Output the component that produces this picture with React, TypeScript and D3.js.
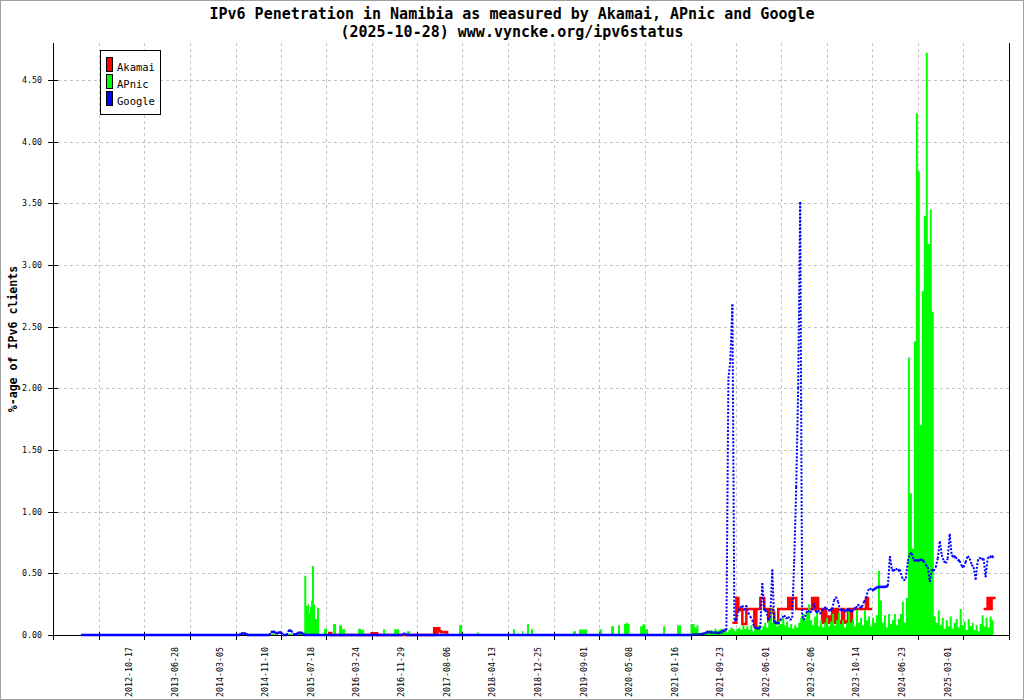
import * as d3 from 'd3';

// --- axis labels ---------------------------------------------------------
const tickLabels = [
  '2012-10-17', '2013-06-28', '2014-03-05', '2014-11-10', '2015-07-18',
  '2016-03-24', '2016-11-29', '2017-08-06', '2018-04-13', '2018-12-25',
  '2019-09-01', '2020-05-08', '2021-01-16', '2021-09-23', '2022-06-01',
  '2023-02-06', '2023-10-14', '2024-06-23', '2025-03-01',
];
const unlabeledTicks = ['2012-02-12'];
const yTicks = [0, 0.5, 1, 1.5, 2, 2.5, 3, 3.5, 4, 4.5];

const seriesNames = ['Akamai', 'APnic', 'Google'];
const seriesColors = ['#ff0000', '#00ff00', '#0000ff'];

// --- early years: sparse [date, %] readings --------------------------------
const googleEarly: [string, number][] = [
  ['2011-11-02', 0], ['2014-03-27', 0], ['2014-04-02', 0.012], ['2014-05-01', 0.012],
  ['2014-05-06', 0], ['2014-09-08', 0], ['2014-09-14', 0.025], ['2014-10-10', 0.025],
  ['2014-10-16', 0.005], ['2014-10-23', 0.02], ['2014-11-14', 0.02], ['2014-11-20', 0],
  ['2014-12-13', 0], ['2014-12-19', 0.035], ['2015-01-08', 0.035], ['2015-01-14', 0.005],
  ['2015-02-06', 0.005], ['2015-02-12', 0.02], ['2015-03-11', 0.015], ['2015-03-17', 0],
  ['2016-09-09', 0], ['2016-09-15', 0.01], ['2016-09-26', 0.01], ['2016-10-02', 0],
];

const apnicEarly: [string, number][] = [
  ['2014-03-29', 0], ['2014-09-10', 0.01], ['2014-10-13', 0], ['2014-12-19', 0.01],
  ['2015-01-10', 0], ['2015-02-01', 0.01], ['2015-03-18', 0.48], ['2015-03-29', 0.235],
  ['2015-04-05', 0.25], ['2015-04-14', 0.18], ['2015-04-19', 0.23], ['2015-04-25', 0.28],
  ['2015-04-30', 0.56], ['2015-05-11', 0.245], ['2015-05-17', 0.13], ['2015-05-28', 0.22],
  ['2015-06-08', 0], ['2015-07-05', 0.05], ['2015-07-22', 0], ['2015-08-24', 0.09],
  ['2015-09-10', 0], ['2015-09-26', 0.08], ['2015-10-13', 0.046], ['2015-10-29', 0],
  ['2016-01-09', 0.05], ['2016-01-26', 0.04], ['2016-02-11', 0], ['2016-05-26', 0.046],
  ['2016-06-06', 0], ['2016-07-26', 0.046], ['2016-08-22', 0], ['2016-10-05', 0.03],
  ['2016-10-22', 0], ['2017-07-19', 0.08], ['2017-08-05', 0], ['2017-10-27', 0.02],
  ['2017-11-07', 0], ['2018-05-13', 0.046], ['2018-05-24', 0], ['2018-07-01', 0.03],
  ['2018-07-10', 0], ['2018-07-29', 0.087], ['2018-08-09', 0], ['2018-08-20', 0.046],
  ['2018-08-31', 0], ['2019-04-09', 0.03], ['2019-04-25', 0], ['2019-05-12', 0.045],
  ['2019-06-25', 0], ['2019-09-01', 0.046], ['2019-09-16', 0], ['2019-11-05', 0.07],
  ['2019-11-21', 0], ['2019-12-13', 0.08], ['2019-12-24', 0], ['2020-01-15', 0.09],
  ['2020-01-26', 0.1], ['2020-02-06', 0.09], ['2020-02-15', 0], ['2020-04-13', 0.07],
  ['2020-04-26', 0.087], ['2020-05-10', 0.046], ['2020-05-27', 0], ['2020-08-18', 0.07],
  ['2020-08-29', 0], ['2020-11-03', 0.08], ['2020-11-25', 0],
];

const akamaiEarly: [string, number][] = [
  ['2015-07-27', 0.016], ['2015-08-13', 0], ['2016-03-24', 0.015], ['2016-04-23', 0],
  ['2017-03-04', 0.054], ['2017-03-15', 0.015], ['2017-03-21', 0.054], ['2017-04-01', 0.03],
  ['2017-04-11', 0.022], ['2017-04-28', 0.025], ['2017-05-14', 0],
];

// --- since 2021: one reading every 11 days ---------------------------------
const recentStart = '2021-01-16';
const recentStepDays = 11;

const googleRecent = [
  0, 0, 0.005, 0.005, 0.005, 0.005, 0.01, 0.01, 0.02, 0.03,
  0.02, 0.02, 0.02, 0.02, 0.015, 0.02, 0.03, 0.04, 0.04, 2.08,
  2.23, 2.68, 0.12, 0.12, 0.2, 0.22, 0.24, 0.2, 0.24, 0.18,
  0.15, 0.12, 0.06, 0.06, 0.05, 0.06, 0.42, 0.2, 0.2, 0.12,
  0.14, 0.53, 0.1, 0.1, 0.09, 0.12, 0.14, 0.16, 0.13, 0.15,
  0.12, 0.14, 0.6, 1.2, 2.0, 3.51, 0.15, 0.12, 0.18, 0.2,
  0.18, 0.2, 0.26, 0.18, 0.2, 0.17, 0.2, 0.22, 0.22, 0.2,
  0.2, 0.21, 0.28, 0.31, 0.27, 0.2, 0.21, 0.19, 0.2, 0.21,
  0.2, 0.19, 0.21, 0.22, 0.25, 0.22, 0.23, 0.27, 0.3, 0.36,
  0.38, 0.36, 0.37, 0.38, 0.39, 0.39, 0.39, 0.39, 0.39, 0.4,
  0.64, 0.53, 0.52, 0.54, 0.52, 0.53, 0.47, 0.44, 0.46, 0.6,
  0.66, 0.66, 0.6, 0.61, 0.6, 0.61, 0.61, 0.6, 0.57, 0.55,
  0.43, 0.53, 0.52, 0.55, 0.62, 0.76, 0.65, 0.6, 0.58, 0.62,
  0.82, 0.64, 0.64, 0.63, 0.61, 0.6, 0.56, 0.55, 0.59, 0.64,
  0.62, 0.57, 0.55, 0.45, 0.6, 0.63, 0.61, 0.62, 0.47, 0.62,
  0.64, 0.63, 0.64,
];

const apnicRecent = [
  0.09, 0.09, 0.06, 0.08, 0.01, 0.01, 0.02, 0.01, 0.03, 0.02,
  0.04, 0.02, 0.05, 0.03, 0.04, 0.05, 0.03, 0.05, 0.02, 0.04,
  0.06, 0.05, 0.03, 0.05, 0.06, 0.04, 0.08, 0.05, 0.07, 0.04,
  0.08, 0.03, 0.06, 0.05, 0.08, 0.04, 0.07, 0.1, 0.06, 0.12,
  0.22, 0.1, 0.13, 0.07, 0.12, 0.09, 0.14, 0.08, 0.11, 0.06,
  0.09, 0.05, 0.08, 0.06, 0.1, 0.14, 0.17, 0.12, 0.19, 0.25,
  0.12, 0.08, 0.15, 0.19, 0.07, 0.12, 0.06, 0.1, 0.14, 0.07,
  0.11, 0.17, 0.08, 0.12, 0.18, 0.09, 0.12, 0.06, 0.1, 0.19,
  0.1, 0.13, 0.07, 0.2, 0.1, 0.14, 0.08, 0.2, 0.12, 0.15,
  0.07, 0.14, 0.1, 0.16, 0.52, 0.28, 0.1, 0.16, 0.06, 0.17,
  0.09, 0.12, 0.17, 0.08, 0.13, 0.17, 0.27, 0.1, 0.3, 2.25,
  1.15, 0.7, 2.38, 4.23, 3.76, 1.7, 2.79, 3.4, 4.72, 3.17,
  3.45, 2.62, 0.15, 0.1, 0.2, 0.08, 0.14, 0.05, 0.12, 0.07,
  0.15, 0.05, 0.1, 0.13, 0.06, 0.21, 0.08, 0.11, 0.04, 0.13,
  0.07, 0.1, 0.04, 0.08, 0.03, 0.09, 0.16, 0.07, 0.14, 0.06,
  0.15, 0.12, 0,
];

const akamaiRecent: (number | null)[] = [
  null, null, null, null, null, null, null, null, null, null,
  null, null, null, null, null, null, null, null, null, null,
  null, 0.1, 0.1, 0.3, 0.2, 0.21, 0.09, 0.09, 0.21, 0.21,
  0.21, 0.21, 0.07, 0.21, 0.21, 0.3, 0.3, 0.21, 0.21, 0.11,
  0.21, 0.18, 0.1, 0.1, 0.21, 0.21, 0.21, 0.21, 0.21, 0.3,
  0.21, 0.3, 0.3, 0.21, 0.21, 0.21, 0.21, 0.21, 0.21, 0.21,
  0.21, 0.3, 0.21, 0.3, 0.21, 0.21, 0.1, 0.21, 0.1, 0.15,
  0.1, 0.21, 0.1, 0.21, 0.11, 0.1, 0.21, 0.1, 0.11, 0.21,
  0.1, 0.21, 0.21, 0.21, 0.21, 0.21, 0.21, 0.21, 0.3, 0.21,
  0.21, 0.21, null, null, null, null, null, null, null, null,
  null, null, null, null, null, null, null, null, null, null,
  null, null, null, null, null, null, null, null, null, null,
  null, null, null, null, null, null, null, null, null, null,
  null, null, null, null, null, null, null, null, null, null,
  null, null, null, null, null, null, null, 0.21, 0.21, 0.3,
  0.21, 0.3, 0.3, 0.3,
];

// ---------------------------------------------------------------------------
type Pt = { date: Date; value: number | null };

const parse = d3.utcParse('%Y-%m-%d');
const fromPairs = (list: [string, number][]): Pt[] =>
  list.map(([d, v]) => ({ date: parse(d)!, value: v }));
const fromGrid = (values: (number | null)[]): Pt[] => {
  const start = parse(recentStart)!;
  return values.map((v, i) => ({ date: d3.utcDay.offset(start, i * recentStepDays), value: v }));
};

const akamai = [...fromPairs(akamaiEarly), ...fromGrid(akamaiRecent)];
const apnic = [...fromPairs(apnicEarly), ...fromGrid(apnicRecent)];
const google = [...fromPairs(googleEarly), ...fromGrid(googleRecent)];

const W = 1024;
const H = 700;
const left = 53;
const right = 1009;
const top = 43;
const bottom = 635;

const x = d3.scaleUtc()
  .domain([parse('2011-06-01')!, parse('2025-11-08')!])
  .range([left, right]);
const y = d3.scaleLinear().domain([0, 4.8]).range([bottom, top]);

const mono = '"DejaVu Sans Mono", "Liberation Mono", monospace';
const gridColor = '#c4c4c4';

export default function App() {
  const gridX = [...unlabeledTicks, ...tickLabels].map((d) => x(parse(d)!));
  const tickX = [left, ...gridX, right];

  const akamaiLine = d3.line<Pt>()
    .defined((d) => d.value != null)
    .curve(d3.curveStepAfter)
    .x((d) => x(d.date))
    .y((d) => y(d.value!));

  const apnicArea = d3.area<Pt>()
    .defined((d) => d.value != null)
    .curve(d3.curveStepAfter)
    .x((d) => x(d.date))
    .y0(y(0))
    .y1((d) => y(d.value!));

  // google: each segment drawn on its own, dotted once it gets steep
  const gPts = google.map((d) => [x(d.date), y(d.value!)] as [number, number]);
  const gSegs = d3.pairs(gPts);

  return (
    <>
      <style>{'body{margin:0}'}</style>
      <svg width={W} height={H} style={{ display: 'block', background: '#fff' }}>
        <rect x={0.5} y={0.5} width={W - 1} height={H - 1} fill="#fff" stroke="#a0a0a0" />

        {/* title */}
        <g fontFamily={mono} fontSize={15} fontWeight="bold" textAnchor="middle" fill="#000">
          <text x={512} y={18.5}>IPv6 Penetration in Namibia as measured by Akamai, APnic and Google</text>
          <text x={512} y={36.5}>(2025-10-28) www.vyncke.org/ipv6status</text>
        </g>

        {/* grid */}
        <g stroke={gridColor} strokeDasharray="3 3" shapeRendering="crispEdges">
          {yTicks.filter((t) => t > 0).map((t) => (
            <line key={'gy' + t} x1={left + 5} x2={right} y1={Math.round(y(t)) + 0.5} y2={Math.round(y(t)) + 0.5} />
          ))}
          {gridX.map((gx, i) => (
            <line key={'gx' + i} x1={Math.round(gx) + 0.5} x2={Math.round(gx) + 0.5} y1={top} y2={bottom - 3} />
          ))}
        </g>

        {/* axes */}
        <g stroke="#000" shapeRendering="crispEdges">
          <line x1={left + 0.5} x2={left + 0.5} y1={top} y2={bottom + 5} />
          <line x1={right + 0.5} x2={right + 0.5} y1={top} y2={bottom + 5} />
          <line x1={left} x2={right + 1} y1={bottom + 0.5} y2={bottom + 0.5} />
          {yTicks.map((t) => (
            <line key={'ty' + t} x1={left - 5} x2={left + 5} y1={Math.round(y(t)) + 0.5} y2={Math.round(y(t)) + 0.5} />
          ))}
          {tickX.map((tx, i) => (
            <line key={'tx' + i} x1={Math.round(tx) + 0.5} x2={Math.round(tx) + 0.5} y1={bottom - 3} y2={bottom + 5} />
          ))}
        </g>

        {/* tick labels */}
        <g fontFamily={mono} fontSize={8.3} fill="#000">
          {yTicks.map((t) => (
            <text key={'ly' + t} x={42} y={y(t)} dy="0.35em" textAnchor="end">{t.toFixed(2)}</text>
          ))}
          {tickLabels.map((d) => (
            <text
              key={d}
              transform={`translate(${x(parse(d)!) - 15.5},647) rotate(-90)`}
              dy="0.35em"
              textAnchor="end"
            >
              {d}
            </text>
          ))}
        </g>

        <text
          transform="translate(16.5,339) rotate(-90)"
          textAnchor="middle"
          fontFamily={mono}
          fontSize={11.6}
          fontWeight="bold"
        >
          %-age of IPv6 clients
        </text>

        {/* series */}
        <path d={akamaiLine(akamai) ?? ''} fill="none" stroke={seriesColors[0]} strokeWidth={2.5} />
        <path d={apnicArea(apnic) ?? ''} fill={seriesColors[1]} stroke="none" />
        <g stroke={seriesColors[2]} fill="none">
          {gSegs.map(([a, b], i) => {
            const steep = Math.abs(b[1] - a[1]) > 2;
            return (
              <line
                key={i}
                x1={a[0]}
                y1={a[1]}
                x2={b[0]}
                y2={b[1]}
                strokeWidth={steep ? 2 : 2.6}
                strokeDasharray={steep ? '2 1.6' : undefined}
              />
            );
          })}
        </g>

        {/* legend */}
        <g fontFamily={mono} fontSize={10.5}>
          <rect x={100.5} y={50.5} width={60} height={64} fill="#fff" stroke="#000" />
          {seriesNames.map((name, i) => (
            <g key={name}>
              <rect x={106.5} y={57.5 + i * 17} width={6} height={14} fill={seriesColors[i]} stroke="#000" />
              <text x={117} y={70.5 + i * 17} fill="#000">{name}</text>
            </g>
          ))}
        </g>
      </svg>
    </>
  );
}
